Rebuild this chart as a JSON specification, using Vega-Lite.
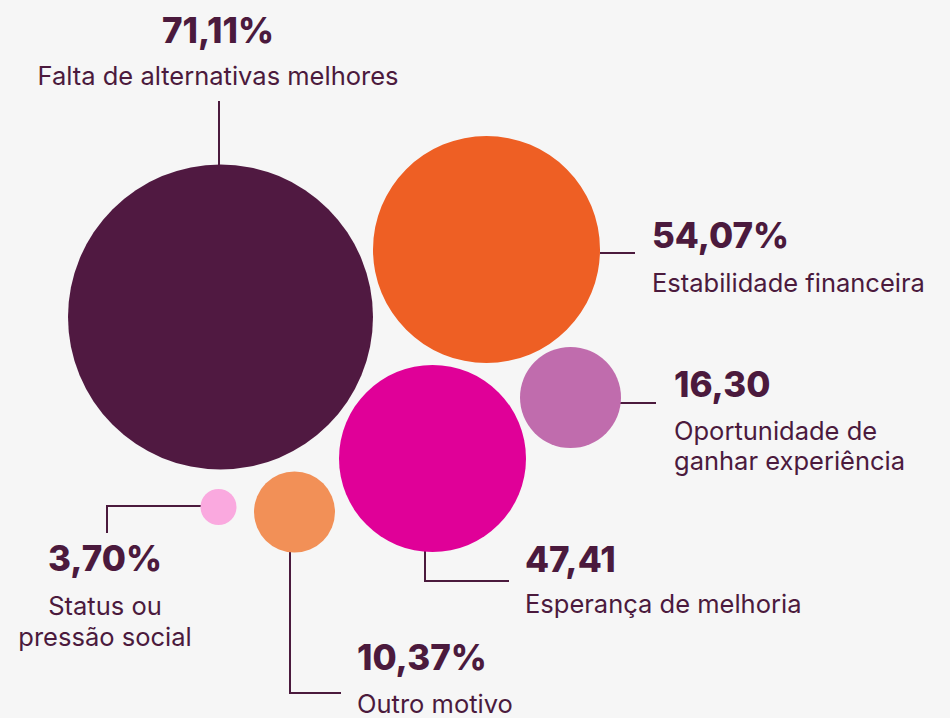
{
  "$schema": "https://vega.github.io/schema/vega-lite/v6.json",
  "width": 950,
  "height": 718,
  "padding": 0,
  "autosize": {"type": "none"},
  "background": "#F6F6F6",
  "config": {"view": {"stroke": null}},
  "datasets": {
    "bubbles": [
      {"name": "Falta de alternativas melhores", "value": 71.11, "cx": 220.5, "cy": 317},
      {"name": "Estabilidade financeira", "value": 54.07, "cx": 486.5, "cy": 249.5},
      {"name": "Esperança de melhoria", "value": 47.41, "cx": 432.5, "cy": 458.5},
      {"name": "Oportunidade de ganhar experiência", "value": 16.30, "cx": 570.5, "cy": 397.5},
      {"name": "Outro motivo", "value": 10.37, "cx": 294.5, "cy": 512},
      {"name": "Status ou pressão social", "value": 3.70, "cx": 218.5, "cy": 507}
    ],
    "leaders": [
      {"name": "Falta de alternativas melhores", "order": 1, "px": 219, "py": 101},
      {"name": "Falta de alternativas melhores", "order": 2, "px": 219, "py": 165},
      {"name": "Estabilidade financeira", "order": 1, "px": 600, "py": 253},
      {"name": "Estabilidade financeira", "order": 2, "px": 635, "py": 253},
      {"name": "Oportunidade de ganhar experiência", "order": 1, "px": 620, "py": 403},
      {"name": "Oportunidade de ganhar experiência", "order": 2, "px": 656, "py": 403},
      {"name": "Status ou pressão social", "order": 1, "px": 201, "py": 506},
      {"name": "Status ou pressão social", "order": 2, "px": 107, "py": 506},
      {"name": "Status ou pressão social", "order": 3, "px": 107, "py": 533},
      {"name": "Outro motivo", "order": 1, "px": 290, "py": 551},
      {"name": "Outro motivo", "order": 2, "px": 290, "py": 693},
      {"name": "Outro motivo", "order": 3, "px": 341, "py": 693},
      {"name": "Esperança de melhoria", "order": 1, "px": 425, "py": 551},
      {"name": "Esperança de melhoria", "order": 2, "px": 425, "py": 581},
      {"name": "Esperança de melhoria", "order": 3, "px": 509, "py": 581}
    ],
    "labels": [
      {"name": "Falta de alternativas melhores", "pct": "71,11%", "cat": "Falta de alternativas melhores", "lx": 218, "vy": 43, "ty": 85, "anchor": "center"},
      {"name": "Estabilidade financeira", "pct": "54,07%", "cat": "Estabilidade financeira", "lx": 652, "vy": 248, "ty": 292, "anchor": "left"},
      {"name": "Oportunidade de ganhar experiência", "pct": "16,30", "cat": "Oportunidade de\nganhar experiência", "lx": 674, "vy": 397, "ty": 440, "anchor": "left"},
      {"name": "Status ou pressão social", "pct": "3,70%", "cat": "Status ou\npressão social", "lx": 105, "vy": 571, "ty": 615, "anchor": "center"},
      {"name": "Esperança de melhoria", "pct": "47,41", "cat": "Esperança de melhoria", "lx": 525, "vy": 572, "ty": 613, "anchor": "left"},
      {"name": "Outro motivo", "pct": "10,37%", "cat": "Outro motivo", "lx": 357, "vy": 670, "ty": 713, "anchor": "left"}
    ]
  },
  "layer": [
    {
      "data": {"name": "leaders"},
      "mark": {"type": "line", "color": "#4B1A3D", "strokeWidth": 2, "interpolate": "linear"},
      "encoding": {
        "x": {"field": "px", "type": "quantitative", "scale": {"domain": [0, 950], "nice": false, "zero": false}, "axis": null},
        "y": {"field": "py", "type": "quantitative", "scale": {"domain": [0, 718], "nice": false, "zero": false, "reverse": true}, "axis": null},
        "detail": {"field": "name"},
        "order": {"field": "order", "type": "quantitative"}
      }
    },
    {
      "data": {"name": "bubbles"},
      "mark": {"type": "circle", "opacity": 1, "stroke": null},
      "encoding": {
        "x": {"field": "cx", "type": "quantitative", "scale": {"domain": [0, 950], "nice": false, "zero": false}, "axis": null},
        "y": {"field": "cy", "type": "quantitative", "scale": {"domain": [0, 718], "nice": false, "zero": false, "reverse": true}, "axis": null},
        "size": {
          "field": "value", "type": "quantitative", "legend": null,
          "scale": {"type": "linear", "domain": [3.70, 10.37, 16.30, 47.41, 54.07, 71.11], "range": [1296, 6561, 10201, 34969, 51529, 93025], "zero": false, "nice": false}
        },
        "color": {
          "field": "name", "type": "nominal", "legend": null,
          "scale": {
            "domain": ["Falta de alternativas melhores", "Estabilidade financeira", "Esperança de melhoria", "Oportunidade de ganhar experiência", "Outro motivo", "Status ou pressão social"],
            "range": ["#501941", "#EE5F24", "#E00098", "#C06CAD", "#F29057", "#FAA9DF"]
          }
        }
      }
    },
    {
      "data": {"name": "labels"},
      "transform": [{"filter": "datum.anchor === 'center'"}],
      "mark": {"type": "text", "align": "center", "baseline": "alphabetic", "font": "Inter", "fontSize": 35, "fontWeight": 800, "color": "#4B1A3D"},
      "encoding": {
        "x": {"field": "lx", "type": "quantitative", "scale": {"domain": [0, 950], "nice": false, "zero": false}, "axis": null},
        "y": {"field": "vy", "type": "quantitative", "scale": {"domain": [0, 718], "nice": false, "zero": false, "reverse": true}, "axis": null},
        "text": {"field": "pct"}
      }
    },
    {
      "data": {"name": "labels"},
      "transform": [{"filter": "datum.anchor === 'left'"}],
      "mark": {"type": "text", "align": "left", "baseline": "alphabetic", "font": "Inter", "fontSize": 35, "fontWeight": 800, "color": "#4B1A3D"},
      "encoding": {
        "x": {"field": "lx", "type": "quantitative", "scale": {"domain": [0, 950], "nice": false, "zero": false}, "axis": null},
        "y": {"field": "vy", "type": "quantitative", "scale": {"domain": [0, 718], "nice": false, "zero": false, "reverse": true}, "axis": null},
        "text": {"field": "pct"}
      }
    },
    {
      "data": {"name": "labels"},
      "transform": [{"filter": "datum.anchor === 'center'"}],
      "mark": {"type": "text", "align": "center", "baseline": "alphabetic", "font": "Inter", "fontSize": 25.5, "fontWeight": 400, "color": "#4B1A3D", "lineBreak": "\n", "lineHeight": 31},
      "encoding": {
        "x": {"field": "lx", "type": "quantitative", "scale": {"domain": [0, 950], "nice": false, "zero": false}, "axis": null},
        "y": {"field": "ty", "type": "quantitative", "scale": {"domain": [0, 718], "nice": false, "zero": false, "reverse": true}, "axis": null},
        "text": {"field": "cat"}
      }
    },
    {
      "data": {"name": "labels"},
      "transform": [{"filter": "datum.anchor === 'left'"}],
      "mark": {"type": "text", "align": "left", "baseline": "alphabetic", "font": "Inter", "fontSize": 25.5, "fontWeight": 400, "color": "#4B1A3D", "lineBreak": "\n", "lineHeight": 30},
      "encoding": {
        "x": {"field": "lx", "type": "quantitative", "scale": {"domain": [0, 950], "nice": false, "zero": false}, "axis": null},
        "y": {"field": "ty", "type": "quantitative", "scale": {"domain": [0, 718], "nice": false, "zero": false, "reverse": true}, "axis": null},
        "text": {"field": "cat"}
      }
    }
  ]
}
